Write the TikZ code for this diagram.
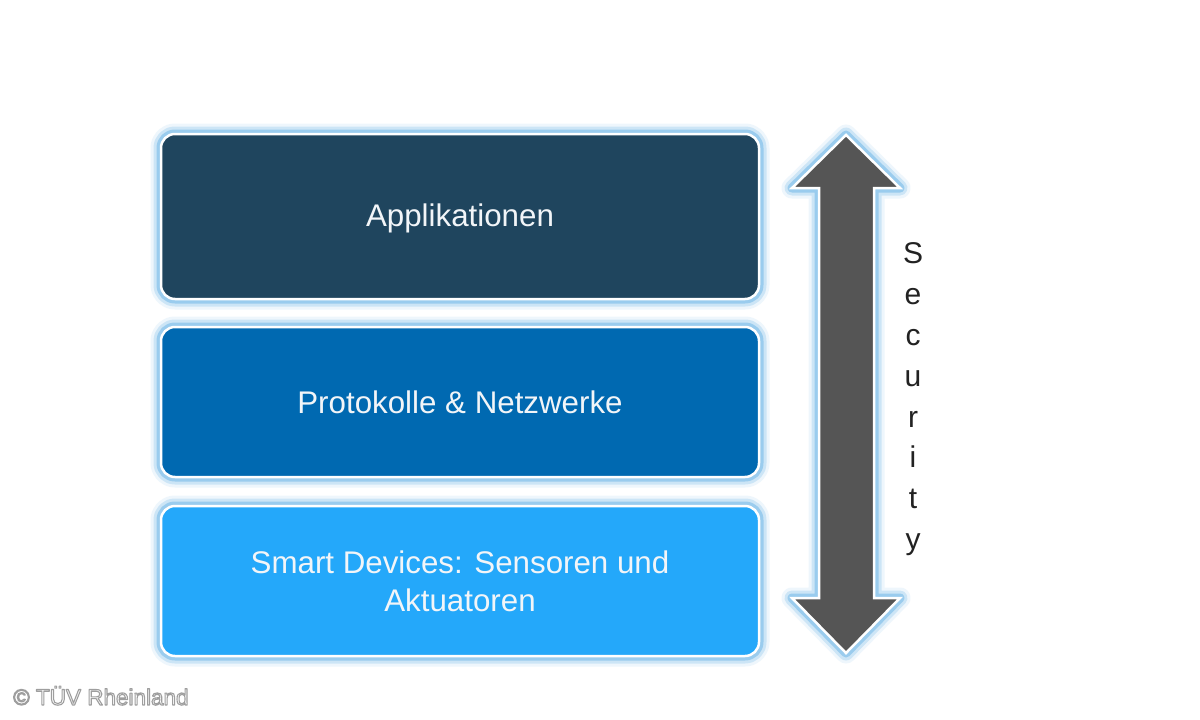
\documentclass[tikz,border=0pt]{standalone}
\usepackage{fontspec}
\setmainfont{Liberation Sans}
\definecolor{glow}{HTML}{8EC6EC}
\definecolor{appc}{HTML}{1F455E}
\definecolor{protc}{HTML}{0069B1}
\definecolor{smartc}{HTML}{24A8FA}
\definecolor{arrowc}{HTML}{555555}
\definecolor{txt}{HTML}{F2F5F8}
\definecolor{sectxt}{HTML}{222222}
\tikzset{
  glowing/.style={
    preaction={draw=glow, fill=none, line width=21pt, draw opacity=.15, line join=round},
    preaction={draw=glow, fill=none, line width=15pt, draw opacity=.35, line join=round},
    preaction={draw=glow, fill=none, line width=9pt, draw opacity=.8, line join=round}},
  layer/.style={glowing, rounded corners=14pt, minimum width=598pt, inner sep=0pt,
    draw=white, line width=2.5pt, text=txt, align=center,
    font=\fontsize{31.3}{38}\selectfont},
  secletter/.style={anchor=base, text=sectxt, inner sep=0pt, font=\fontsize{30}{36}\selectfont},
  copyr/.style={anchor=base west, inner sep=0pt, font=\fontsize{22.5}{26}\selectfont}
}
\newcommand{\halotext}[1]{\special{pdf:literal 2 Tr 1.1 w 0.62 0.62 0.62 RG 1 j}#1\special{pdf:literal 0 Tr}}
\begin{document}
\begin{tikzpicture}[x=1pt,y=-1pt]
\useasboundingbox[fill=white] (0,0) rectangle (1200,720);
% layers
\node[layer, fill=appc, minimum height=165pt, text depth=2pt] (app) at (460,216.5) {Applikationen};
\node[layer, fill=protc, minimum height=150pt] (prot) at (460,402) {Protokolle \& Netzwerke};
\node[layer, fill=smartc, minimum height=150pt] (smart) at (460,581) {Smart Devices: Sensoren und\\Aktuatoren};
% double arrow
\draw[glowing, fill=arrowc, draw=white, line width=2.5pt, line join=miter]
  (846,135) -- (900,188) -- (874,188) -- (874,598) -- (900,598) -- (846,653)
  -- (792,598) -- (819,598) -- (819,188) -- (792,188) -- cycle;
% Security
\foreach \l/\b [count=\i] in {S/263,e/304,c/345,u/386,r/427,i/467.5,t/508,y/549}
  \node[secletter] (sec\i) at (913,\b) {\l};
% copyright
\node[copyr, text=white] (copy) at (13,705) {\halotext{© TÜV Rheinland}};
\end{tikzpicture}
\end{document}
